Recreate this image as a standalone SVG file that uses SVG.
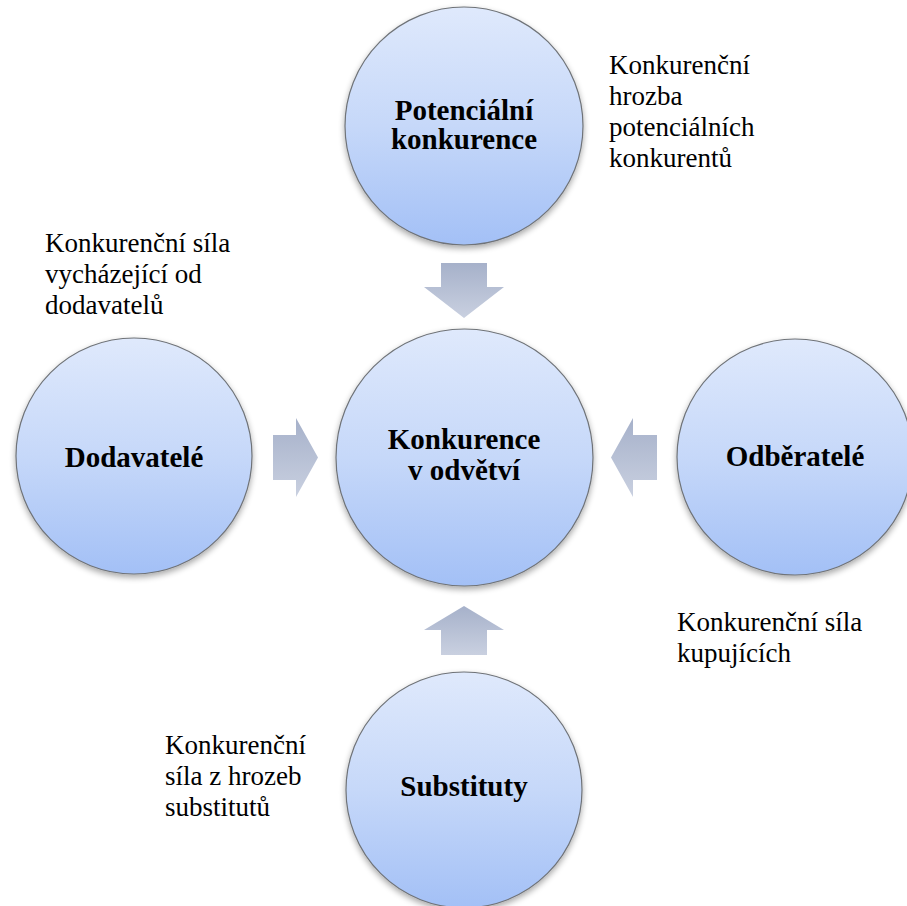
<svg xmlns="http://www.w3.org/2000/svg" width="907" height="906" viewBox="0 0 907 906">
  <defs>
    <linearGradient id="circleFill" x1="0" y1="0" x2="0" y2="1">
      <stop offset="0" stop-color="#dfe9fc"/>
      <stop offset="0.5" stop-color="#c6d8f9"/>
      <stop offset="1" stop-color="#a3c0f6"/>
    </linearGradient>
    <linearGradient id="arrowFill" x1="0" y1="0" x2="0" y2="1">
      <stop offset="0" stop-color="#a6b1ca"/>
      <stop offset="1" stop-color="#c9d0e0"/>
    </linearGradient>
    <filter id="shadow" x="-20%" y="-20%" width="140%" height="140%">
      <feGaussianBlur in="SourceAlpha" stdDeviation="3"/>
      <feOffset dx="0" dy="3" result="b"/>
      <feComponentTransfer><feFuncA type="linear" slope="0.35"/></feComponentTransfer>
      <feMerge><feMergeNode/><feMergeNode in="SourceGraphic"/></feMerge>
    </filter>
  </defs>
  <style>
    .node { fill: url(#circleFill); stroke: #6f7378; stroke-width: 1.2; filter: url(#shadow); }
    .arrow { fill: url(#arrowFill); stroke: none; }
    .title { font-family: "Liberation Serif", "Times New Roman", serif; font-size: 29px; font-weight: bold; fill: #000; text-anchor: middle; }
    .label { font-family: "Liberation Serif", "Times New Roman", serif; font-size: 27px; fill: #000; }
  </style>
  <rect width="907" height="906" fill="#ffffff"/>

  <g id="connectors">
    <path class="arrow" d="M441,263 H487 V287 H504 L464,318 L424,287 H441 Z"/>
    <path class="arrow" d="M273,435 V480 H296 V497 L318,457.5 L296,418 V435 Z"/>
    <path class="arrow" d="M657,435 V480 H633 V497 L611,457.5 L633,418 V435 Z"/>
    <path class="arrow" d="M441,655 H487 V630 H504 L464,606 L424,630 H441 Z"/>
  </g>

  <g id="node-potencialni">
    <circle class="node" cx="464" cy="126" r="119"/>
    <text class="title" x="464" y="120">Potenciální</text>
    <text class="title" x="464" y="149">konkurence</text>
  </g>

  <g id="node-konkurence">
    <circle class="node" cx="464.5" cy="457.5" r="128.5"/>
    <text class="title" x="464" y="449">Konkurence</text>
    <text class="title" x="464" y="480">v odvětví</text>
  </g>

  <g id="node-dodavatele">
    <circle class="node" cx="134" cy="456" r="118"/>
    <text class="title" x="134" y="467">Dodavatelé</text>
  </g>

  <g id="node-odberatele">
    <circle class="node" cx="795" cy="457" r="118"/>
    <text class="title" x="795" y="466">Odběratelé</text>
  </g>

  <g id="node-substituty">
    <circle class="node" cx="464" cy="790" r="118"/>
    <text class="title" x="464" y="796">Substituty</text>
  </g>

  <g id="labels">
    <text class="label" x="609" y="74">Konkurenční</text>
    <text class="label" x="609" y="105">hrozba</text>
    <text class="label" x="609" y="136">potenciálních</text>
    <text class="label" x="609" y="167">konkurentů</text>

    <text class="label" x="45" y="252">Konkurenční síla</text>
    <text class="label" x="45" y="283">vycházející od</text>
    <text class="label" x="45" y="314">dodavatelů</text>

    <text class="label" x="677" y="631">Konkurenční síla</text>
    <text class="label" x="677" y="662">kupujících</text>

    <text class="label" x="165" y="754">Konkurenční</text>
    <text class="label" x="165" y="785">síla z hrozeb</text>
    <text class="label" x="165" y="816">substitutů</text>
  </g>
</svg>
